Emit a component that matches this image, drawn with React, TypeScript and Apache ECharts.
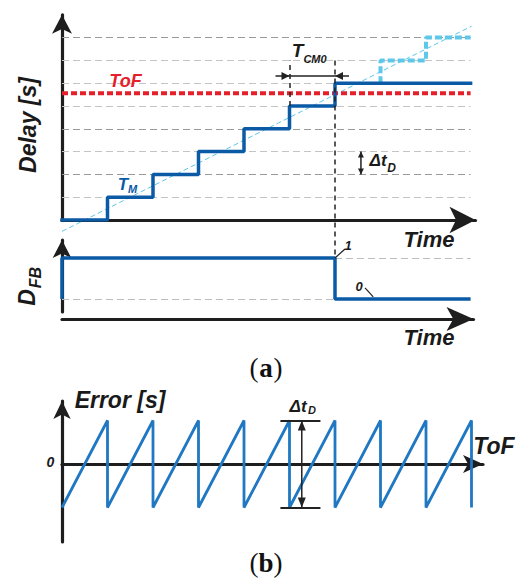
import { useEffect, useRef } from "react";
import * as echarts from "echarts";

// ---------- data (in time steps / delay levels) ----------
const T_END = 8.98;
const GRID_LEVELS_DARK = [8, 4, 2];
const GRID_LEVELS_LIGHT = [7, 6, 5, 3, 1];
const TOF_LEVEL = 5.56;
const TM_TIMES = [0, 1, 2, 3, 4, 5, 6, 8.98];
const TM_VALUES = [0, 1, 2, 3, 4, 5, 6, 6];
const EXTRAP_TIMES = [7, 8, 8.98];
const EXTRAP_VALUES = [6, 7, 8];
const RAMP_TIMES = [0, 9];
const RAMP_VALUES = [-0.5, 8.5];
const CM_MARKERS = [
  { t: 5, from: 5, to: 7 },
  { t: 6, from: 7, to: -1.67 },
];
const TCM_LEVEL = 6.32;
const DT_TIME = 6.57;
const DT_LEVELS = [2, 3];

const DFB_TIMES = [0, 0, 6, 6, 8.98];
const DFB_VALUES = [0, 1, 1, 0, 0];
const DFB_GUIDES = [
  { from: 0, to: 6, v: 0 },
  { from: 6, to: 8.98, v: 1 },
];
const DFB_LEADERS = [
  [[6, 1], [6.22, 1.22]],
  [[6.66, 0.27], [6.84, 0.05]],
];

const ERR_TOF = [0, 1, 1, 2, 2, 3, 3, 4, 4, 5, 5, 6, 6, 7, 7, 8, 8, 9, 9];
const ERR_VALUES = [-1, 1, -1, 1, -1, 1, -1, 1, -1, 1, -1, 1, -1, 1, -1, 1, -1, 1, -1];
const ERR_BAR_FROM = 4.8;
const ERR_BAR_TO = 5.68;
const ERR_ARROW_TOF = 5.27;

// ---------- styling / layout ----------
const SANS = '"Liberation Sans", Arial, sans-serif';
const SERIF = '"Liberation Serif", "Times New Roman", serif';
const AX = "#1e1e1e";
const BLUE = "#0b5aa6";
const BLUE2 = "#1f78c1";
const CYAN = "#5ec8ea";
const RED = "#e5202b";
const STEP = 45.5;

const zip = (a: number[], b: number[]) => a.map((v, i) => [v, b[i]]);

function axisPair(gi: number, xMax: number, yMin: number, yMax: number, xArrow: number[], yArrow: number[], xOffset = 0, onZero = true) {
  const line = (arrow: number[]) => ({
    show: true,
    onZero,
    symbol: ["none", "arrow"],
    symbolSize: arrow,
    lineStyle: { color: AX, width: 3.2 },
  });
  const common = {
    axisTick: { show: false },
    axisLabel: { show: false },
    splitLine: { show: false },
  };
  return {
    x: { type: "value", gridIndex: gi, min: 0, max: xMax, offset: xOffset, axisLine: line(xArrow), ...common },
    y: { type: "value", gridIndex: gi, min: yMin, max: yMax, axisLine: line(yArrow), ...common },
  };
}

export default function App() {
  const ref = useRef<HTMLDivElement>(null);
  useEffect(() => {
    if (!ref.current) return;
    const chart = echarts.init(ref.current, undefined, { renderer: "svg" });

    const g1 = { left: 62, top: 14.8, width: 413.5, height: 205.2 };
    const g2 = { left: 62, top: 240, width: 411.5, height: 72 };
    const g3 = { left: 62, top: 401, width: 421, height: 141 };
    const a1 = axisPair(0, g1.width / STEP, 0, 9, [20, 26], [15, 19]);
    const a2 = axisPair(1, g2.width / STEP, -13 / 41, 1 + 18 / 41, [18, 27], [14, 18], 7, false);
    const a3 = axisPair(2, g3.width / STEP, -78 / 43.5, 63 / 43.5, [13.5, 20], [13, 18]);

    const gridLines = (levels: number[], color: string) => ({
      type: "lines",
      coordinateSystem: "cartesian2d",
      xAxisIndex: 0,
      yAxisIndex: 0,
      silent: true,
      z: 1,
      lineStyle: { color, width: 1.2, type: [7, 4], opacity: 1 },
      data: levels.map((l) => ({ coords: [[0, l], [T_END, l]] })),
    });

    const line = (xi: number, data: number[][], style: any, extra: any = {}) => ({
      type: "line",
      xAxisIndex: xi,
      yAxisIndex: xi,
      data,
      symbol: "none",
      silent: true,
      lineStyle: style,
      ...extra,
    });

    chart.setOption({
      animation: false,
      grid: [
        { ...g1, containLabel: false },
        { ...g2, containLabel: false },
        { ...g3, containLabel: false },
      ],
      xAxis: [a1.x, a2.x, a3.x],
      yAxis: [a1.y, a2.y, a3.y],
      series: [
        gridLines(GRID_LEVELS_LIGHT, "#c4c4c4"),
        gridLines(GRID_LEVELS_DARK, "#9a9a9a"),
        line(0, zip(RAMP_TIMES, RAMP_VALUES), { color: CYAN, width: 1, type: [5, 3] }, { clip: false, z: 2 }),
        line(0, [[0, TOF_LEVEL], [T_END, TOF_LEVEL]], { color: RED, width: 4, type: [6, 3] }, { z: 3 }),
        line(0, zip(EXTRAP_TIMES, EXTRAP_VALUES), { color: CYAN, width: 4, type: [7, 3] }, { step: "start", z: 3 }),
        line(0, zip(TM_TIMES, TM_VALUES), { color: BLUE, width: 3.5, cap: "square" }, { step: "end", z: 4 }),
        {
          type: "lines",
          coordinateSystem: "cartesian2d",
          xAxisIndex: 0,
          yAxisIndex: 0,
          silent: true,
          clip: false,
          z: 5,
          lineStyle: { color: "#222", width: 1.5, type: [5, 4], opacity: 1 },
          data: CM_MARKERS.map((m) => ({ coords: [[m.t, m.from], [m.t, m.to]] })),
        },
        {
          type: "lines",
          coordinateSystem: "cartesian2d",
          xAxisIndex: 1,
          yAxisIndex: 1,
          silent: true,
          z: 1,
          lineStyle: { color: "#bdbdbd", width: 1.2, type: [7, 4], opacity: 1 },
          data: DFB_GUIDES.map((d) => ({ coords: [[d.from, d.v], [d.to, d.v]] })),
        },
        line(1, zip(DFB_TIMES, DFB_VALUES), { color: BLUE, width: 3.5 }, { z: 4 }),
        {
          type: "lines",
          coordinateSystem: "cartesian2d",
          xAxisIndex: 1,
          yAxisIndex: 1,
          silent: true,
          clip: false,
          z: 5,
          lineStyle: { color: "#222", width: 1.2, opacity: 1 },
          data: DFB_LEADERS.map((c) => ({ coords: c })),
        },
        line(2, zip(ERR_TOF, ERR_VALUES), { color: BLUE2, width: 2.8 }, { z: 4 }),
        {
          type: "lines",
          coordinateSystem: "cartesian2d",
          xAxisIndex: 2,
          yAxisIndex: 2,
          silent: true,
          clip: false,
          z: 5,
          lineStyle: { color: "#222", width: 2, opacity: 1 },
          data: [1, -1].map((v) => ({ coords: [[ERR_BAR_FROM, v], [ERR_BAR_TO, v]] })),
        },
      ],
    });

    const P = (g: number, x: number, y: number) =>
      chart.convertToPixel({ gridIndex: g } as any, [x, y]) as number[];
    const head = (tip: number[], dir: number[], len: number, w: number) => ({
      type: "polygon",
      silent: true,
      z: 100,
      shape: {
        points: [
          tip,
          [tip[0] - dir[0] * len - (dir[1] * w) / 2, tip[1] - dir[1] * len + (dir[0] * w) / 2],
          [tip[0] - dir[0] * len + (dir[1] * w) / 2, tip[1] - dir[1] * len - (dir[0] * w) / 2],
        ],
      },
      style: { fill: "#222" },
    });
    const seg = (a: number[], b: number[], w = 1.5) => ({
      type: "line",
      silent: true,
      z: 100,
      shape: { x1: a[0], y1: a[1], x2: b[0], y2: b[1] },
      style: { stroke: "#222", lineWidth: w },
    });
    const txt = (text: string, x: number, y: number, size: number, fill = "#1a1a1a", rot = 0, font?: string) => ({
      type: "text",
      silent: true,
      z: 100,
      x,
      y,
      rotation: rot,
      style: {
        text,
        x: 0,
        y: 0,
        font: font ?? `italic bold ${size}px ${SANS}`,
        fill,
        textAlign: "center",
        textVerticalAlign: "middle",
        align: "center",
        verticalAlign: "middle",
      },
    });

    const tA = P(0, 5, TCM_LEVEL);
    const tB = P(0, 6, TCM_LEVEL);
    const dA = P(0, DT_TIME, DT_LEVELS[1]);
    const dB = P(0, DT_TIME, DT_LEVELS[0]);
    const eA = P(2, ERR_ARROW_TOF, 1);
    const eB = P(2, ERR_ARROW_TOF, -1);

    const caption = (letter: string, x: number, y: number) => [
      txt("(", x - 12, y, 0, "#111", 0, `27px ${SERIF}`),
      txt(letter, x, y, 0, "#111", 0, `bold 27px ${SERIF}`),
      txt(")", x + 12, y, 0, "#111", 0, `27px ${SERIF}`),
    ];

    chart.setOption({
      graphic: [
        // T_CM0 arrow
        seg([tA[0] - 14, tA[1]], [tB[0] + 14, tB[1]], 1.5),
        head(tA, [1, 0], 8, 8),
        head(tB, [-1, 0], 8, 8),
        // Δt_D arrow (top)
        seg(dA, dB, 1.5),
        head(dA, [0, -1], 6, 6),
        head(dB, [0, 1], 6, 6),
        // Δt_D arrow (b)
        seg(eA, eB, 1.5),
        head(eA, [0, -1], 10, 8),
        head(eB, [0, 1], 10, 8),
        // texts
        txt("Delay [s]", 28, 125, 23, "#1a1a1a", Math.PI / 2),
        txt("ToF", 125.5, 81, 18, RED),
        txt("T", 123, 184, 17, BLUE),
        txt("M", 132.5, 189, 11, BLUE),
        txt("T", 297.5, 50, 19),
        txt("CM0", 315, 58.5, 11),
        txt("Δt", 378, 160.5, 17),
        txt("D", 391.5, 167.5, 12),
        txt("Time", 429, 239, 22),
        txt("1", 348, 245, 13),
        txt("0", 359, 286, 13),
        txt("D", 26.5, 297.5, 23, "#1a1a1a", Math.PI / 2),
        txt("FB", 35, 277.5, 16, "#1a1a1a", Math.PI / 2),
        txt("Time", 429, 337, 22),
        txt("Error [s]", 120, 400, 23),
        txt("ToF", 494, 445.5, 23),
        txt("0", 50.5, 462, 14),
        txt("Δt", 298, 406, 17),
        txt("D", 312, 410, 11),
        ...caption("a", 266, 368),
        ...caption("b", 266, 563),
      ],
    });

    return () => chart.dispose();
  }, []);

  return <div ref={ref} style={{ width: 524, height: 580, position: "absolute", left: 0, top: 0 }} />;
}
